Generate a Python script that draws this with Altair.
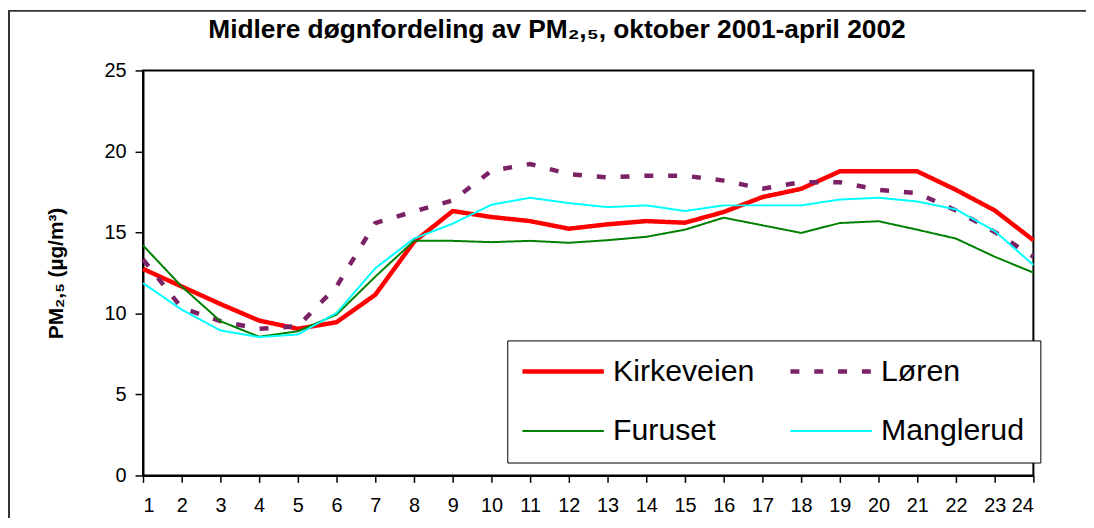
import altair as alt
import pandas as pd

hours = list(range(1, 25))
stations = ["Kirkeveien", "Furuset", "Løren", "Manglerud"]

kirkeveien = [12.75, 11.66, 10.58, 9.56, 9.05, 9.46, 11.15, 14.42, 16.32, 15.95, 15.70, 15.23,
              15.50, 15.70, 15.60, 16.26, 17.18, 17.69, 18.77, 18.77, 18.77, 17.63, 16.36, 14.52]
loren = [13.34, 10.34, 9.52, 9.05, 9.21, 11.66, 15.58, 16.30, 16.97, 18.81, 19.22, 18.60,
         18.40, 18.50, 18.50, 18.20, 17.70, 18.10, 18.10, 17.63, 17.42, 16.36, 15.03, 13.50]
furuset = [14.20, 11.66, 9.52, 8.56, 8.90, 9.93, 12.27, 14.48, 14.48, 14.40, 14.48, 14.36,
           14.52, 14.73, 15.17, 15.91, 15.44, 14.97, 15.58, 15.69, 15.17, 14.62, 13.50, 12.52]
manglerud = [11.87, 10.23, 8.95, 8.54, 8.70, 10.03, 12.79, 14.62, 15.54, 16.71, 17.14, 16.81,
             16.56, 16.67, 16.32, 16.67, 16.67, 16.67, 17.03, 17.14, 16.91, 16.42, 15.09, 12.99]

y_ticks = [0, 5, 10, 15, 20, 25]
colors = ["#FF0000", "#008000", "#7B2267", "#00FFFF"]
widths = [4.5, 2, 4.5, 2]
dashes = [[1, 0], [1, 0], [9, 15], [1, 0]]

title_text = "Midlere døgnfordeling av PM₂,₅, oktober 2001-april 2002"

series = {"Kirkeveien": kirkeveien, "Løren": loren, "Furuset": furuset, "Manglerud": manglerud}
rows = []
for s, vals in series.items():
    for h, v in zip(hours, vals):
        rows.append({"time": h, "pm": v, "stasjon": s})
df = pd.DataFrame(rows)

FONT = "Liberation Sans"

legend = alt.Legend(
    title=None, orient="none", legendX=367, legendY=272, columns=2,
    symbolType="M-5,0H5", symbolSize=269, symbolOffset=25,
    labelFontSize=30.5, labelFont=FONT, labelColor="black", labelOffset=35,
    labelLimit=400, columnPadding=27, rowPadding=29, padding=16,
    strokeColor="black", fillColor="white",
)

lines = alt.Chart(df).mark_line(strokeCap="butt").encode(
    x=alt.X("time:Q", scale=alt.Scale(domain=[1, 24], nice=False, zero=False),
            axis=alt.Axis(values=hours, format="d", title=None, grid=False,
                          tickSize=7, labelPadding=13)),
    y=alt.Y("pm:Q", scale=alt.Scale(domain=[0, 25], nice=False),
            axis=alt.Axis(values=y_ticks, format="d", grid=False, tickSize=8,
                          labelPadding=9, title="PM₂,₅ (µg/m³)",
                          titleFont=FONT, titleFontSize=21, titleFontWeight="bold",
                          titleColor="black", titleAngle=-90, titleX=-87, titleY=204,
                          titleAlign="center", titleBaseline="middle")),
    color=alt.Color("stasjon:N", scale=alt.Scale(domain=stations, range=colors), legend=legend),
    strokeDash=alt.StrokeDash("stasjon:N", scale=alt.Scale(domain=stations, range=dashes), legend=legend),
    strokeWidth=alt.StrokeWidth("stasjon:N", scale=alt.Scale(type="ordinal", domain=stations, range=widths),
                                legend=legend),
)

one = pd.DataFrame({"f": [0]})

frame = alt.Chart(one).mark_rect(
    fill="transparent", stroke="#333333", strokeWidth=2
).encode(
    x=alt.value(-135), x2=alt.value(1000), y=alt.value(-60), y2=alt.value(520)
)

title = alt.Chart(one).mark_text(
    font=FONT, fontSize=26.5, fontWeight="bold", color="black",
    align="center", baseline="middle"
).encode(
    x=alt.value(417), y=alt.value(-41), text=alt.value(title_text)
)

chart = alt.layer(frame, title, lines).properties(
    width=897, height=408,
    autosize=alt.AutoSizeParams(type="none"),
    padding={"left": 136, "top": 61, "right": 53, "bottom": 41},
    background="white",
).configure_view(
    stroke="black", strokeWidth=2
).configure_axis(
    labelFont=FONT, labelFontSize=20, labelColor="black",
    domainColor="black", domainWidth=2, tickColor="black", tickWidth=1.5,
)

chart.save("out.html", embed_options={"renderer": "svg", "actions": False})
